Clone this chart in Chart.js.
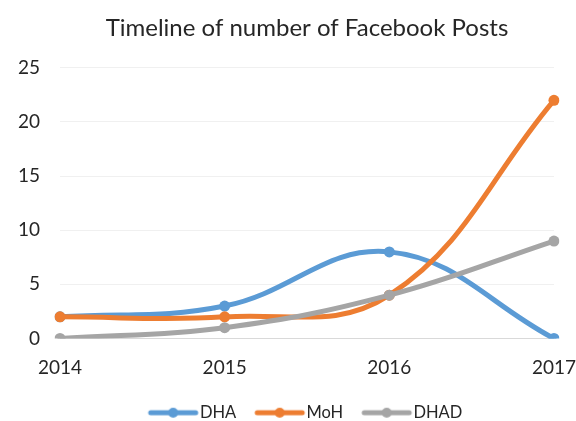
<!DOCTYPE html>
<html>
<head>
<meta charset="utf-8">
<script src="https://cdn.jsdelivr.net/npm/chart.js@4"></script>
<style>
html,body{margin:0;padding:0;background:#fff;}
#wrap{width:576px;height:421px;}
</style>
</head>
<body>
<div id="wrap"><canvas id="c" width="576" height="421"></canvas></div>
<script>
const years = ['2014', '2015', '2016', '2017'];
const dhaValues = [2, 3, 8, 0];
const mohValues = [2, 2, 4, 22];
const dhadValues = [0, 1, 4, 9];
const seriesNames = ['DHA', 'MoH', 'DHAD'];
const seriesColors = ['#5b9bd5', '#ed7d31', '#a5a5a5'];
const yTicks = [0, 5, 10, 15, 20, 25];

const FONT = 'Lato, "Open Sans", sans-serif';

function legendIcon(color) {
  const c = document.createElement('canvas');
  c.width = 100; c.height = 12;
  const g = c.getContext('2d');
  g.strokeStyle = color; g.lineWidth = 5; g.lineCap = 'round';
  g.beginPath(); g.moveTo(29, 6); g.lineTo(74, 6); g.stroke();
  g.fillStyle = color;
  g.beginPath(); g.arc(51.5, 6, 5, 0, Math.PI * 2); g.fill();
  return c;
}
const icons = seriesColors.map(legendIcon);

function ds(label, data, color, order) {
  return {
    label, data, borderColor: color, backgroundColor: color,
    borderWidth: 5, pointRadius: 5.5, pointHoverRadius: 5.5, pointBorderWidth: 0,
    pointBackgroundColor: color, tension: 0.4, fill: false, order,
    borderCapStyle: 'round'
  };
}

new Chart(document.getElementById('c'), {
  type: 'line',
  data: {
    labels: years,
    datasets: [
      ds(seriesNames[0], dhaValues, seriesColors[0], 2),
      ds(seriesNames[1], mohValues, seriesColors[1], 1),
      ds(seriesNames[2], dhadValues, seriesColors[2], 0)
    ]
  },
  options: {
    responsive: false,
    animation: false,
    layout: { padding: { left: 0, right: 0, top: 0, bottom: -10 } },
    plugins: {
      tooltip: { enabled: false },
      title: {
        display: true,
        fullSize: false,
        text: 'Timeline of number of Facebook Posts',
        color: '#262626',
        font: { family: FONT, size: 24, weight: 'normal' },
        padding: { top: 14, bottom: 25 }
      },
      legend: {
        position: 'bottom',
        fullSize: false,
        labels: {
          usePointStyle: true,
          pointStyleWidth: 40,
          color: '#262626',
          font: { family: FONT, size: 16.5 },
          padding: 22,
          sort: (a, b) => a.datasetIndex - b.datasetIndex,
          generateLabels: (chart) => {
            const items = Chart.defaults.plugins.legend.labels.generateLabels(chart);
            items.forEach(it => { it.pointStyle = icons[it.datasetIndex]; });
            return items;
          }
        }
      }
    },
    scales: {
      x: {
        offset: false,
        grid: { display: true, drawOnChartArea: false, drawTicks: true, tickLength: 18, tickColor: 'rgba(0,0,0,0)' },
        border: { display: false },
        ticks: { color: '#262626', font: { family: FONT, size: 19 }, padding: 0, maxRotation: 0 },
        afterFit: s => { s.height = 44; }
      },
      y: {
        min: 0, max: 25,
        afterBuildTicks: s => { s.ticks = yTicks.map(v => ({ value: v })); },
        grid: {
          drawTicks: false,
          color: c => (c.tick && c.tick.value === 0) ? '#d9d9d9' : '#f0f0f0',
          lineWidth: 1
        },
        border: { display: false },
        ticks: { color: '#262626', font: { family: FONT, size: 19 }, padding: 20 },
        afterFit: s => { s.width = 60; }
      }
    }
  }
});
</script>
</body>
</html>
